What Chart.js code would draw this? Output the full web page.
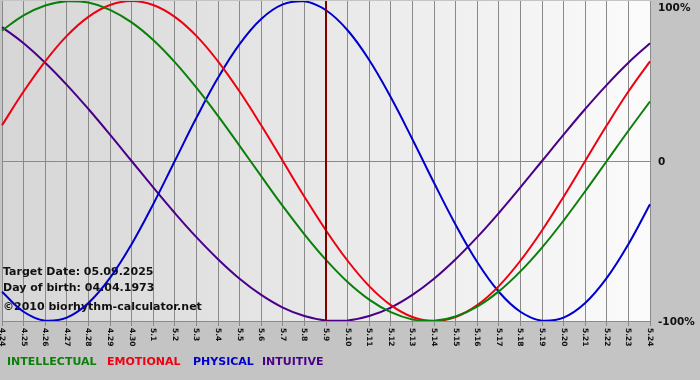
<!DOCTYPE html>
<html>
<head>
<title>Biorhythm</title>
<script src="https://cdn.jsdelivr.net/npm/chart.js@4.4.0/dist/chart.umd.min.js"></script>
<style>
body { margin: 0; background: #c4c4c4; }
</style>
</head>
<body>
<canvas id="bio" width="700" height="380"></canvas>
<script>
// days shown (month.day)
const days = ['4.24','4.25','4.26','4.27','4.28','4.29','4.30',
  '5.1','5.2','5.3','5.4','5.5','5.6','5.7','5.8','5.9','5.10','5.11','5.12',
  '5.13','5.14','5.15','5.16','5.17','5.18','5.19','5.20','5.21','5.22','5.23','5.24'];
const targetDay = '5.9';

// values in percent
const intellectual = [81.5,91,97.2,99.9,99,94.5,86.6,75.6,61.8,45.8,28.2,9.5,-9.5,-28.2,-45.8,-61.8,-75.6,-86.6,-94.5,-99,-99.9,-97.2,-91,-81.5,-69,-54.1,-37.2,-18.9,0,18.9,37.2];
const emotional    = [22.3,43.4,62.3,78.2,90.1,97.5,100,97.5,90.1,78.2,62.3,43.4,22.3,0,-22.3,-43.4,-62.3,-78.2,-90.1,-97.5,-100,-97.5,-90.1,-78.2,-62.3,-43.4,-22.3,0,22.3,43.4,62.3];
const physical     = [-81.7,-94.2,-99.8,-97.9,-88.8,-73.1,-52,-27,0,27,52,73.1,88.8,97.9,99.8,94.2,81.7,63.1,39.8,13.6,-13.6,-39.8,-63.1,-81.7,-94.2,-99.8,-97.9,-88.8,-73.1,-52,-27];
const intuitive    = [83.7,73.6,61.4,47.6,32.5,16.5,0,-16.5,-32.5,-47.6,-61.4,-73.6,-83.7,-91.6,-96.9,-99.7,-99.7,-96.9,-91.6,-83.7,-73.6,-61.4,-47.6,-32.5,-16.5,0,16.5,32.5,47.6,61.4,73.6];

const yLabels = [[100, '100%'], [0, '0'], [-100, '-100%']];
const legendItems = [
  ['INTELLECTUAL', '#0a800a', 7],
  ['EMOTIONAL', '#ee0011', 107],
  ['PHYSICAL', '#0000cc', 193],
  ['INTUITIVE', '#4a0088', 262]
];
const infoLines = ['Target Date: 05.09.2025', 'Day of birth: 04.04.1973', '\u00a92010 biorhythm-calculator.net'];

function series(label, data, color) {
  return { label: label, data: data, borderColor: color, borderWidth: 2,
           pointRadius: 0, tension: 0.4, fill: false };
}

const decor = {
  id: 'decor',
  beforeDraw(chart) {
    const c = chart.ctx, a = chart.chartArea;
    c.save();
    c.fillStyle = '#c4c4c4';
    c.fillRect(0, 0, chart.width, chart.height);
    const g = c.createLinearGradient(a.left, 0, a.right, 0);
    g.addColorStop(0, '#d6d6d6');
    g.addColorStop(1, '#fbfbfb');
    c.fillStyle = g;
    c.fillRect(a.left, a.top, a.right - a.left, a.bottom - a.top);
    c.restore();
  },
  beforeDatasetsDraw(chart) {
    const c = chart.ctx;
    c.save();
    c.font = 'bold 11px "DejaVu Sans"';
    c.fillStyle = '#111';
    c.textBaseline = 'middle';
    c.fillText(infoLines[0], 3, 272);
    c.fillText(infoLines[1], 3, 288);
    c.fillText(infoLines[2], 3, 307);
    c.restore();
  },
  afterDatasetsDraw(chart) {
    const c = chart.ctx, a = chart.chartArea;
    const x = chart.scales.x.getPixelForValue(days.indexOf(targetDay));
    c.save();
    c.strokeStyle = '#800000';
    c.lineWidth = 2;
    c.beginPath();
    c.moveTo(x, a.top);
    c.lineTo(x, a.bottom);
    c.stroke();
    c.restore();
  },
  afterDraw(chart) {
    const c = chart.ctx, a = chart.chartArea;
    const xs = chart.scales.x, ys = chart.scales.y;
    c.save();
    // rotated day labels
    c.font = 'bold 7.5px "DejaVu Sans"';
    c.fillStyle = '#111';
    c.textBaseline = 'middle';
    c.textAlign = 'left';
    days.forEach((d, i) => {
      const x = xs.getPixelForValue(i);
      c.save();
      c.translate(x, a.bottom + 7);
      c.rotate(Math.PI / 2);
      c.fillText(d, 0, 0);
      c.restore();
    });
    // percent labels on the right
    c.font = 'bold 10.5px "DejaVu Sans"';
    yLabels.forEach(([v, t]) => {
      let y = ys.getPixelForValue(v);
      if (y < a.top + 6) y = a.top + 6;
      c.fillText(t, a.right + 8, y + 1);
    });
    // legend
    c.font = 'bold 11px "DejaVu Sans"';
    legendItems.forEach(([t, col, x]) => {
      c.fillStyle = col;
      c.fillText(t, x, 362);
    });
    c.restore();
  }
};

new Chart(document.getElementById('bio'), {
  type: 'line',
  data: {
    labels: days,
    datasets: [
      series('INTELLECTUAL', intellectual, '#0a800a'),
      series('EMOTIONAL', emotional, '#ee0011'),
      series('PHYSICAL', physical, '#0000cc'),
      series('INTUITIVE', intuitive, '#4a0088')
    ]
  },
  options: {
    responsive: false,
    animation: false,
    devicePixelRatio: 1,
    layout: { padding: { left: 2, top: 1, right: 0, bottom: 0 } },
    scales: {
      x: {
        offset: false,
        grid: { color: '#8a8a8a', lineWidth: 1, tickLength: 5 },
        border: { color: '#8a8a8a' },
        ticks: { display: false },
        afterFit(s) { s.height = 59; }
      },
      y: {
        position: 'right',
        min: -100,
        max: 100,
        ticks: { display: false, stepSize: 100 },
        grid: {
          drawTicks: false,
          color: ctx => ctx.tick.value === 0 ? '#8a8a8a' : 'rgba(0,0,0,0)'
        },
        border: { display: false },
        afterFit(s) { s.width = 50; }
      }
    },
    plugins: { legend: { display: false }, tooltip: { enabled: false } }
  },
  plugins: [decor]
});
</script>
</body>
</html>
